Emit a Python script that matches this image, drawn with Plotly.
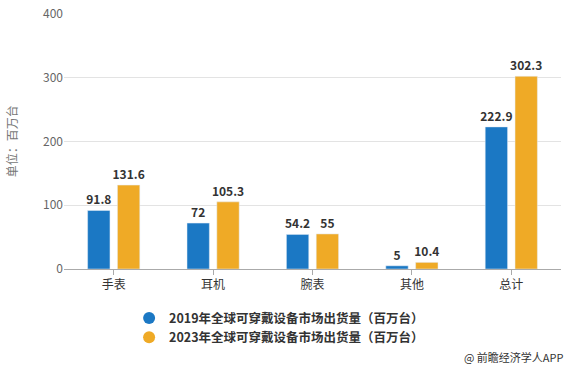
import plotly.graph_objects as go

categories = ["手表", "耳机", "腕表", "其他", "总计"]
values_2019 = [91.8, 72, 54.2, 5, 222.9]
values_2023 = [131.6, 105.3, 55, 10.4, 302.3]
labels_2019 = ["91.8", "72", "54.2", "5", "222.9"]
labels_2023 = ["131.6", "105.3", "55", "10.4", "302.3"]
series_names = ["2019年全球可穿戴设备市场出货量（百万台）", "2023年全球可穿戴设备市场出货量（百万台）"]
colors = ["#1b78c4", "#efaa26"]
y_ticks = [0, 100, 200, 300, 400]

FONT = "Noto Sans CJK SC, Microsoft YaHei, sans-serif"

fig = go.Figure()
for vals, labs, name, c in [(values_2019, labels_2019, series_names[0], colors[0]),
                            (values_2023, labels_2023, series_names[1], colors[1])]:
    fig.add_trace(go.Bar(
        x=categories, y=vals, name=name, marker_color=c,
        text=labs, textposition="outside", cliponaxis=False, constraintext="none",
        textfont=dict(family=FONT, size=12, color="#333333", weight="bold"),
        showlegend=False, hoverinfo="skip",
    ))
for name, c in zip(series_names, colors):
    fig.add_trace(go.Scatter(
        x=[categories[0]], y=[None], mode="markers", name=name,
        marker=dict(symbol="circle", size=12, color=c), showlegend=True,
    ))

fig.update_layout(
    width=573, height=371,
    margin=dict(l=64, r=12, t=14, b=102, autoexpand=False),
    plot_bgcolor="white", paper_bgcolor="white",
    barmode="group", bargap=0.4, bargroupgap=0.25,
    font=dict(family=FONT, color="#333333"),
    legend=dict(x=0.131, y=-0.135, xanchor="left", yanchor="top",
                font=dict(family=FONT, size=12.5, color="#333333", weight="bold"),
                itemsizing="trace", tracegroupgap=0, bgcolor="rgba(0,0,0,0)"),
    xaxis=dict(showline=True, linecolor="#aaaaaa", linewidth=1,
               ticks="outside", ticklen=5, tickcolor="#aaaaaa", automargin=False,
               tickfont=dict(family=FONT, size=12, color="#333333")),
    yaxis=dict(range=[0, 400], tickvals=y_ticks, showgrid=True, gridcolor="#e3e3e3",
               zeroline=False, showline=False, automargin=False,
               tickfont=dict(family=FONT, size=12, color="#666666")),
    annotations=[
        dict(text="@ 前瞻经济学人APP", xref="paper", yref="paper",
             x=1.01, y=-0.345, xanchor="right", yanchor="middle", showarrow=False,
             font=dict(family=FONT, size=11, color="#333333")),
        dict(text="单位：百万台", xref="paper", yref="paper",
             x=-0.105, y=0.5, xanchor="center", yanchor="middle", textangle=-90,
             showarrow=False, font=dict(family=FONT, size=12, color="#777777")),
    ],
)

fig.write_html(
    "out.html",
    config={"displayModeBar": False},
    post_script="document.body.style.margin='0';document.body.style.overflow='hidden';",
)
